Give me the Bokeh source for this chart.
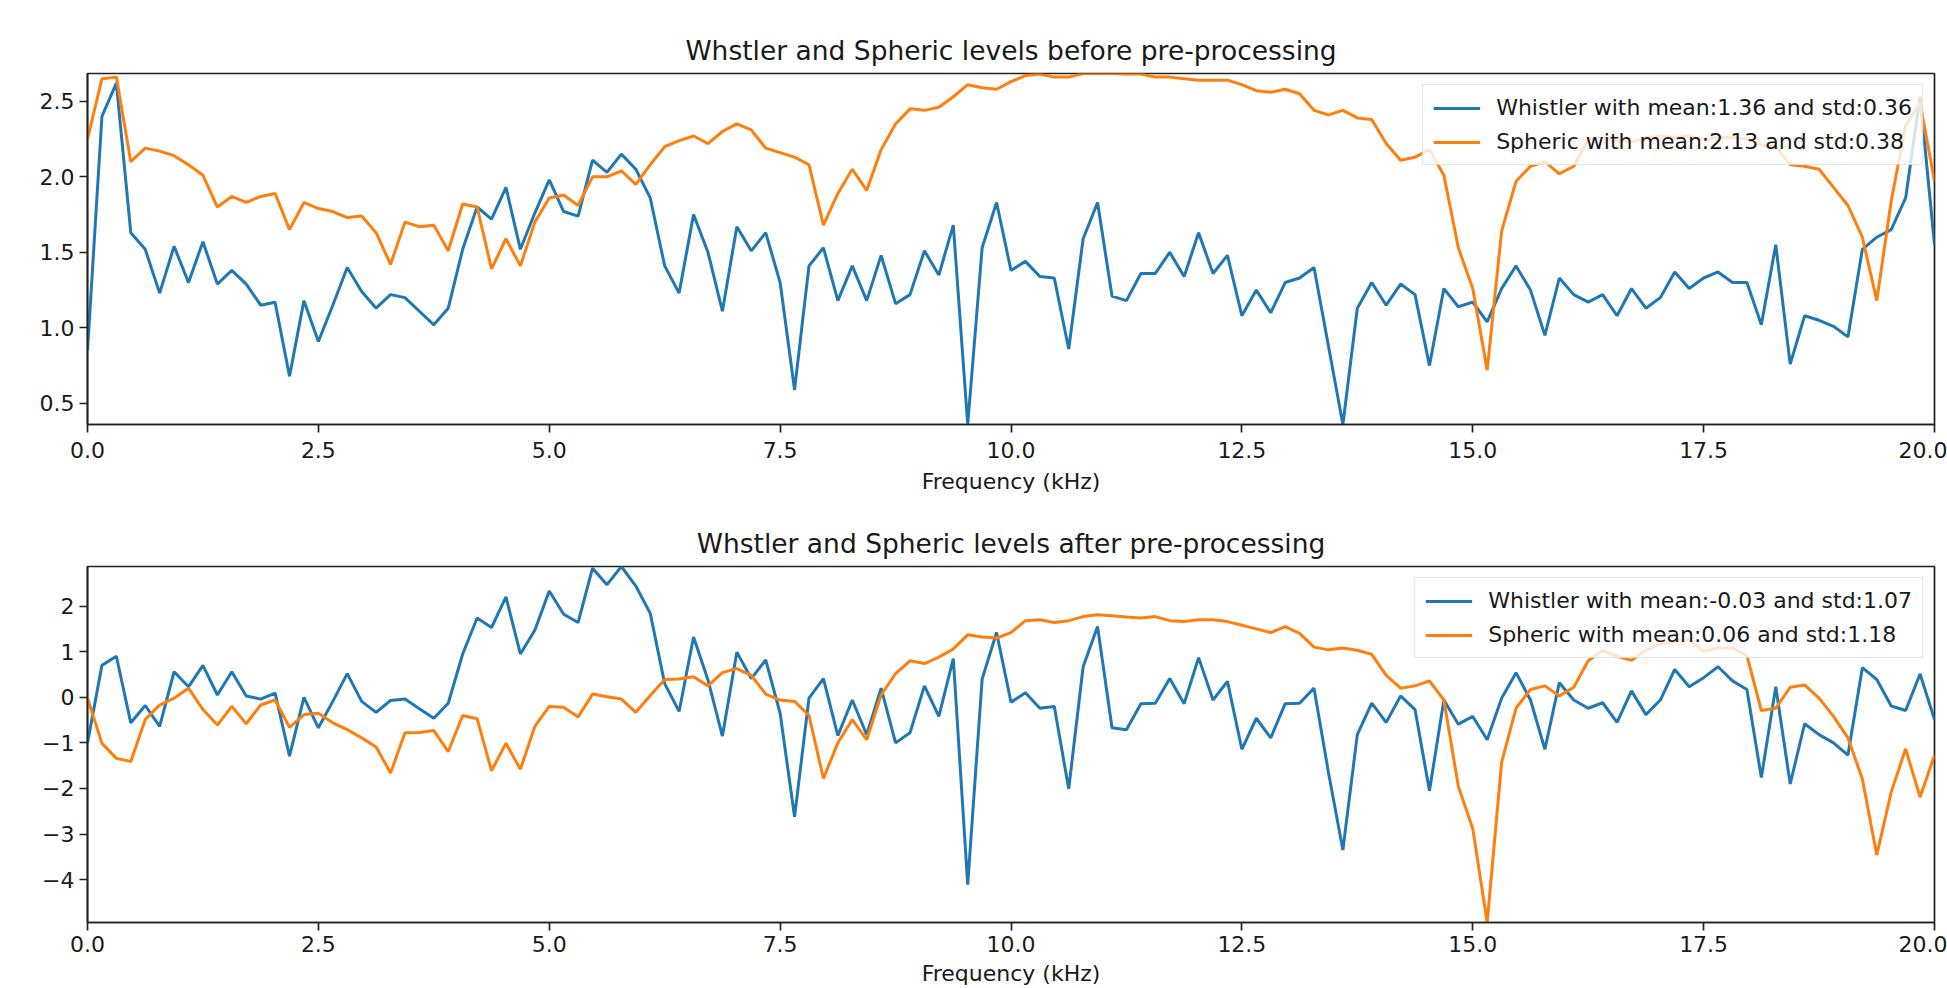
import numpy as np
from bokeh.plotting import figure
from bokeh.layouts import column
from bokeh.models import FixedTicker, Range1d
from bokeh.embed import file_html
from bokeh.resources import INLINE

# Frequency bins (129 FFT bins between 0 and 20 kHz)
freq_khz = np.linspace(0.0, 20.0, 129)

whistler_before = [
    0.85, 2.40, 2.62, 1.63, 1.52, 1.23, 1.54, 1.30, 1.57, 1.29,
    1.38, 1.29, 1.15, 1.17, 0.68, 1.18, 0.91, 1.15, 1.40, 1.24,
    1.13, 1.22, 1.20, 1.11, 1.02, 1.13, 1.52, 1.80, 1.72, 1.93,
    1.52, 1.76, 1.98, 1.77, 1.74, 2.11, 2.03, 2.15, 2.05, 1.86,
    1.41, 1.23, 1.75, 1.50, 1.11, 1.67, 1.51, 1.63, 1.30, 0.59,
    1.41, 1.53, 1.18, 1.41, 1.18, 1.48, 1.16, 1.22, 1.51, 1.35,
    1.68, 0.36, 1.53, 1.83, 1.38, 1.44, 1.34, 1.33, 0.86, 1.59,
    1.83, 1.21, 1.18, 1.36, 1.36, 1.50, 1.34, 1.63, 1.36, 1.48,
    1.08, 1.25, 1.10, 1.30, 1.33, 1.40, 0.88, 0.36, 1.13, 1.30,
    1.15, 1.29, 1.22, 0.75, 1.26, 1.14, 1.17, 1.04, 1.26, 1.41,
    1.25, 0.95, 1.33, 1.22, 1.17, 1.22, 1.08, 1.26, 1.13, 1.20,
    1.37, 1.26, 1.33, 1.37, 1.30, 1.30, 1.02, 1.55, 0.76, 1.08,
    1.05, 1.01, 0.94, 1.52, 1.60, 1.65, 1.86, 2.53, 1.55,
]

spheric_before = [
    2.25, 2.65, 2.66, 2.10, 2.19, 2.17, 2.14, 2.08, 2.01, 1.80,
    1.87, 1.83, 1.87, 1.89, 1.65, 1.83, 1.79, 1.77, 1.73, 1.74,
    1.63, 1.42, 1.70, 1.67, 1.68, 1.51, 1.82, 1.80, 1.39, 1.59,
    1.41, 1.70, 1.86, 1.88, 1.81, 2.00, 2.00, 2.04, 1.95, 2.08,
    2.20, 2.24, 2.27, 2.22, 2.30, 2.35, 2.31, 2.19, 2.16, 2.13,
    2.08, 1.68, 1.89, 2.05, 1.91, 2.18, 2.35, 2.45, 2.44, 2.46,
    2.53, 2.61, 2.59, 2.58, 2.63, 2.67, 2.68, 2.66, 2.66, 2.684,
    2.684, 2.684, 2.68, 2.68, 2.66, 2.66, 2.65, 2.64, 2.64, 2.64,
    2.61, 2.57, 2.56, 2.58, 2.55, 2.44, 2.41, 2.44, 2.39, 2.38,
    2.22, 2.11, 2.13, 2.18, 2.01, 1.53, 1.26, 0.72, 1.64, 1.97,
    2.07, 2.10, 2.02, 2.07, 2.25, 2.26, 2.24, 2.23, 2.26, 2.27,
    2.26, 2.27, 2.25, 2.26, 2.26, 2.25, 2.21, 2.20, 2.08, 2.07,
    2.05, 1.93, 1.81, 1.60, 1.18, 1.84, 2.34, 2.49, 1.97,
]

whistler_after = [
    -1.00, 0.70, 0.90, -0.56, -0.18, -0.64, 0.56, 0.23, 0.70, 0.05,
    0.56, 0.03, -0.04, 0.09, -1.29, 0.00, -0.67, -0.09, 0.52, -0.09,
    -0.33, -0.07, -0.04, -0.25, -0.46, -0.13, 0.95, 1.74, 1.53, 2.20,
    0.95, 1.47, 2.33, 1.82, 1.64, 2.83, 2.47, 2.868, 2.44, 1.84,
    0.30, -0.31, 1.32, 0.38, -0.85, 0.99, 0.41, 0.82, -0.35, -2.62,
    -0.02, 0.41, -0.84, -0.06, -0.82, 0.20, -1.00, -0.78, 0.25, -0.42,
    0.85, -4.11, 0.40, 1.42, -0.11, 0.10, -0.24, -0.20, -2.01, 0.67,
    1.55, -0.67, -0.71, -0.14, -0.13, 0.41, -0.14, 0.87, -0.06, 0.35,
    -1.14, -0.46, -0.89, -0.14, -0.13, 0.20, -1.65, -3.35, -0.82, -0.13,
    -0.55, 0.03, -0.27, -2.05, -0.06, -0.59, -0.42, -0.93, -0.02, 0.54,
    -0.06, -1.14, 0.32, -0.06, -0.24, -0.12, -0.55, 0.14, -0.38, -0.06,
    0.61, 0.23, 0.43, 0.67, 0.36, 0.17, -1.76, 0.23, -1.90, -0.58,
    -0.82, -1.00, -1.27, 0.65, 0.39, -0.19, -0.29, 0.51, -0.49,
]

spheric_after = [
    -0.02, -1.01, -1.34, -1.41, -0.49, -0.17, -0.02, 0.20, -0.27, -0.61,
    -0.20, -0.58, -0.17, -0.06, -0.66, -0.38, -0.35, -0.56, -0.71, -0.89,
    -1.09, -1.66, -0.78, -0.77, -0.73, -1.19, -0.40, -0.47, -1.61, -1.01,
    -1.58, -0.64, -0.20, -0.22, -0.43, 0.07, 0.01, -0.04, -0.33, 0.04,
    0.39, 0.40, 0.45, 0.25, 0.54, 0.63, 0.48, 0.07, -0.06, -0.09,
    -0.40, -1.78, -1.00, -0.49, -0.93, 0.05, 0.52, 0.80, 0.74, 0.88,
    1.06, 1.37, 1.32, 1.30, 1.42, 1.68, 1.70, 1.64, 1.68, 1.77,
    1.81, 1.79, 1.76, 1.74, 1.77, 1.68, 1.66, 1.70, 1.70, 1.66,
    1.58, 1.50, 1.42, 1.55, 1.40, 1.10, 1.04, 1.08, 1.03, 0.94,
    0.48, 0.20, 0.25, 0.36, -0.06, -1.95, -2.88, -4.939, -1.43, -0.24,
    0.17, 0.25, 0.03, 0.22, 0.80, 1.03, 0.90, 0.81, 1.03, 1.17,
    1.23, 1.26, 1.01, 1.08, 1.08, 0.92, -0.29, -0.24, 0.22, 0.27,
    -0.02, -0.42, -0.89, -1.79, -3.46, -2.08, -1.13, -2.19, -1.27,
]

titles = ["Whstler and Spheric levels before pre-processing",
          "Whstler and Spheric levels after pre-processing"]
legend_before = ["Whistler with mean:1.36 and std:0.36",
                 "Spheric with mean:2.13 and std:0.38"]
legend_after = ["Whistler with mean:-0.03 and std:1.07",
                "Spheric with mean:0.06 and std:1.18"]
x_label = "Frequency (kHz)"

x_ticks = [0.0, 2.5, 5.0, 7.5, 10.0, 12.5, 15.0, 17.5, 20.0]
x_tick_labels = ["0.0", "2.5", "5.0", "7.5", "10.0", "12.5", "15.0", "17.5", "20.0"]
y_ticks_before = [0.5, 1.0, 1.5, 2.0, 2.5]
y_tick_labels_before = ["0.5", "1.0", "1.5", "2.0", "2.5"]
y_ticks_after = [-4, -3, -2, -1, 0, 1, 2]
y_tick_labels_after = ["\u22124", "\u22123", "\u22122", "\u22121", "0", "1", "2"]

BLUE = "#1f77b4"
ORANGE = "#ff7f0e"
TEXT = "#1a1a1a"
FONT = "DejaVu Sans"


def make_panel(title, height, top, bottom, series_w, series_s, labels,
               yticks, ylabels, label_standoff, axis_label_standoff):
    ymin = min(min(series_w), min(series_s))
    ymax = max(max(series_w), max(series_s))
    p = figure(width=1947, height=height, output_backend="svg",
               toolbar_location=None, title=title,
               x_range=Range1d(0, 20), y_range=Range1d(ymin, ymax),
               min_border_left=87, min_border_right=13,
               min_border_top=top, min_border_bottom=bottom)
    p.title.align = "center"
    p.title.text_font = FONT
    p.title.text_font_size = "26.5px"
    p.title.text_font_style = "normal"
    p.title.text_color = TEXT
    p.title.standoff = 15
    p.grid.visible = False
    p.outline_line_color = "#222222"
    p.outline_line_width = 1.7
    p.background_fill_color = "white"
    p.border_fill_color = "white"

    for ax in (p.xaxis[0], p.yaxis[0]):
        ax.axis_line_color = "#222222"
        ax.axis_line_width = 1.7
        ax.major_tick_line_color = "#222222"
        ax.major_tick_line_width = 1.7
        ax.major_tick_out = 8
        ax.major_tick_in = 0
        ax.minor_tick_out = 0
        ax.minor_tick_in = 0
        ax.major_label_text_font = FONT
        ax.major_label_text_font_size = "22px"
        ax.major_label_text_color = TEXT
        ax.major_label_standoff = 5
    p.xaxis.major_label_standoff = label_standoff

    p.xaxis.ticker = FixedTicker(ticks=x_ticks)
    p.xaxis.major_label_overrides = dict(zip(x_ticks, x_tick_labels))
    p.yaxis.ticker = FixedTicker(ticks=yticks)
    p.yaxis.major_label_overrides = dict(zip(yticks, ylabels))

    p.xaxis.axis_label = x_label
    p.xaxis.axis_label_text_font = FONT
    p.xaxis.axis_label_text_font_size = "22px"
    p.xaxis.axis_label_text_font_style = "normal"
    p.xaxis.axis_label_text_color = TEXT
    p.xaxis.axis_label_standoff = axis_label_standoff

    p.line(freq_khz, series_w, line_color=BLUE, line_width=3,
           legend_label=labels[0])
    p.line(freq_khz, series_s, line_color=ORANGE, line_width=3,
           legend_label=labels[1])

    lg = p.legend[0]
    lg.location = "top_right"
    lg.margin = 11
    lg.padding = 10
    lg.spacing = 9
    lg.glyph_width = 47
    lg.glyph_height = 22
    lg.label_height = 22
    lg.label_standoff = 16
    lg.label_text_font = FONT
    lg.label_text_font_size = "22px"
    lg.label_text_color = TEXT
    lg.border_line_color = "#cccccc"
    lg.border_line_width = 1.5
    lg.background_fill_color = "white"
    lg.background_fill_alpha = 0.8
    return p


p1 = make_panel(titles[0], 496, 73, 64, whistler_before, spheric_before,
                legend_before, y_ticks_before, y_tick_labels_before, 9, 8)
p2 = make_panel(titles[1], 492, 70, 66, whistler_after, spheric_after,
                legend_after, y_ticks_after, y_tick_labels_after, 5, 6)

layout = column(p1, p2, spacing=0)
open("out.html", "w").write(file_html(layout, INLINE))
